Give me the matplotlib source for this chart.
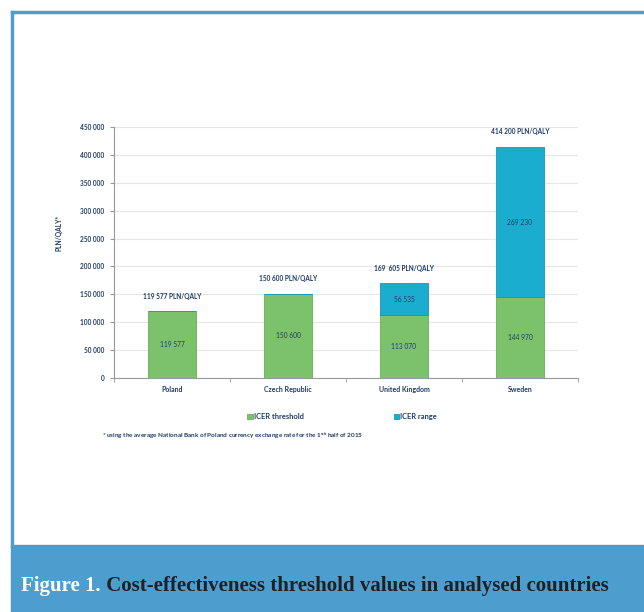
import numpy as np
import matplotlib.pyplot as plt
from matplotlib.patches import Rectangle
from matplotlib.lines import Line2D

plt.rcParams['font.family'] = ['Lato', 'DejaVu Sans']

# data
countries = ['Poland', 'Czech Republic', 'United Kingdom', 'Sweden']
threshold = [119577, 150600, 113070, 144970]
icer_range = [0, 0, 56535, 269230]
total_labels = ['119 577 PLN/QALY', '150 600 PLN/QALY', '169  605 PLN/QALY', '414 200 PLN/QALY']
threshold_labels = ['119 577', '150 600', '113 070', '144 970']
range_labels = ['', '', '56 535', '269 230']
yticks = [0, 50000, 100000, 150000, 200000, 250000, 300000, 350000, 400000, 450000]

navy = '#1f3b66'
green = '#7cc26a'
blue = '#1badcf'
frame = '#4d9ecf'

fig = plt.figure(figsize=(6.44, 6.12), dpi=100)
ax = fig.add_axes([0.177, 0.3824, 0.7205, 0.4101])

x = np.arange(len(countries))
b1 = ax.bar(x, threshold, width=0.41, color=green, edgecolor='#6aae58', linewidth=0.6,
            label='ICER threshold', zorder=3)
b2 = ax.bar(x, icer_range, width=0.41, bottom=threshold, color=blue, edgecolor='#1697b5',
            linewidth=0.6, label='ICER range', zorder=3)

for i in range(len(countries)):
    ax.text(x[i], threshold[i] / 2, threshold_labels[i], ha='center', va='center',
            fontsize=4.8, color=navy, zorder=4)
    if icer_range[i]:
        ax.text(x[i], threshold[i] + icer_range[i] / 2, range_labels[i], ha='center',
                va='center', fontsize=4.8, color=navy, zorder=4)
    top = threshold[i] + icer_range[i]
    ax.annotate(total_labels[i], (x[i], top), xytext=(0, 11), textcoords='offset points',
                ha='center', va='center', fontsize=4.7, fontweight='bold', color=navy)

ax.set_xlim(-0.5, 3.5)
ax.set_ylim(0, 450000)
ax.set_yticks(yticks)
ax.set_yticklabels([f'{v:,}'.replace(',', ' ') for v in yticks], fontsize=4.7,
                   fontweight='bold', color=navy)
ax.set_xticks(x)
ax.set_xticklabels(countries, fontsize=5, fontweight='bold', color=navy)
ax.set_xticks(np.arange(-0.5, 4, 1), minor=True)
ax.tick_params(axis='x', which='major', length=0, pad=6)
ax.tick_params(axis='x', which='minor', length=3, color='#999999')
ax.tick_params(axis='y', length=3, color='#999999', pad=4)
ax.yaxis.grid(True, color='#e6e6e6', linewidth=0.8, zorder=0)
ax.set_axisbelow(True)
for s in ['top', 'right']:
    ax.spines[s].set_visible(False)
for s in ['left', 'bottom']:
    ax.spines[s].set_color('#999999')
    ax.spines[s].set_linewidth(0.8)
ax.set_ylabel('PLN/QALY*', fontsize=4.8, fontweight='bold', color=navy)
ax.yaxis.set_label_coords(-0.112, 0.58)

fig.legend(handles=[b1, b2], loc='center', bbox_to_anchor=(0.531, 0.319), ncol=2,
           frameon=False, handlelength=0.7, handleheight=0.7,
           handletextpad=0.15, columnspacing=12, labelcolor=navy,
           prop={'weight': 'bold', 'size': 5.4})

fig.text(0.158, 0.288, '* using the average National Bank of Poland currency exchange rate for the 1'
         r'$^{\mathbf{st}}$' ' half of 2015', fontsize=4.6, fontweight='bold', color=navy,
         va='center')

# frame and caption band
fig.add_artist(Line2D([0.0186, 1.0], [0.981, 0.981], color=frame, linewidth=2.5,
                      transform=fig.transFigure))
fig.add_artist(Line2D([0.0186, 0.0186], [0.981, 0.108], color=frame, linewidth=2.5,
                      transform=fig.transFigure))
fig.add_artist(Rectangle((0.017, 0), 0.983, 0.109, color=frame, transform=fig.transFigure))

t1 = fig.text(0.033, 0.034, 'Figure 1.', fontsize=15, fontweight='bold', color='white',
              family='Liberation Serif', va='baseline')
fig.canvas.draw()
bb = t1.get_window_extent().transformed(fig.transFigure.inverted())
fig.text(bb.x1, 0.034, ' Cost-effectiveness threshold values in analysed countries',
         fontsize=15, fontweight='bold', color='#231f20', family='Liberation Serif',
         va='baseline')

fig.savefig('out.png', dpi=100)
